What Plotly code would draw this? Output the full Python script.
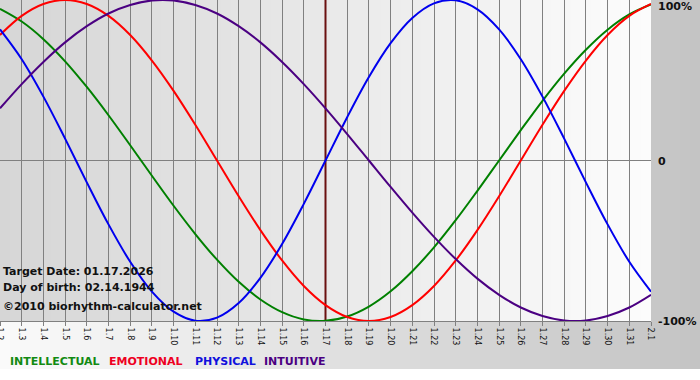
import plotly.graph_objects as go

# ---- data ----
day_labels = ["1.2", "1.3", "1.4", "1.5", "1.6", "1.7", "1.8", "1.9", "1.10", "1.11",
              "1.12", "1.13", "1.14", "1.15", "1.16", "1.17", "1.18", "1.19", "1.20", "1.21",
              "1.22", "1.23", "1.24", "1.25", "1.26", "1.27", "1.28", "1.29", "1.30", "1.31", "2.1"]

intellectual = [0.945, 0.866, 0.756, 0.618, 0.458, 0.282, 0.095, -0.095, -0.282, -0.458,
                -0.618, -0.756, -0.866, -0.945, -0.990, -0.999, -0.972, -0.910, -0.815, -0.690,
                -0.541, -0.372, -0.189, 0.0, 0.189, 0.372, 0.541, 0.690, 0.815, 0.910, 0.972]

emotional = [0.782, 0.901, 0.975, 1.0, 0.975, 0.901, 0.782, 0.623, 0.434, 0.223,
             0.0, -0.223, -0.434, -0.623, -0.782, -0.901, -0.975, -1.0, -0.975, -0.901,
             -0.782, -0.623, -0.434, -0.223, 0.0, 0.223, 0.434, 0.623, 0.782, 0.901, 0.975]

physical = [0.817, 0.631, 0.398, 0.136, -0.136, -0.398, -0.631, -0.817, -0.942, -0.998,
            -0.979, -0.888, -0.731, -0.520, -0.270, 0.0, 0.270, 0.520, 0.731, 0.888,
            0.979, 0.998, 0.942, 0.817, 0.631, 0.398, 0.136, -0.136, -0.398, -0.631, -0.817]

intuitive = [0.325, 0.476, 0.614, 0.736, 0.837, 0.916, 0.969, 0.997, 0.997, 0.969,
             0.916, 0.837, 0.736, 0.614, 0.476, 0.325, 0.165, 0.0, -0.165, -0.325,
             -0.476, -0.614, -0.736, -0.837, -0.916, -0.969, -0.997, -0.997, -0.969, -0.916, -0.837]

target_day = "1.17"
right_values = [1, 0, -1]
right_labels = ["100%", "0", "-100%"]

series_names = ["INTELLECTUAL", "EMOTIONAL", "PHYSICAL", "INTUITIVE"]
series_colors = ["#008000", "#ff0000", "#0000ee", "#4b0082"]
legend_colors = ["#128a12", "#ee0022", "#1010dd", "#4b0082"]
info_lines = ["Target Date: 01.17.2026", "Day of birth: 02.14.1944", "\u00a92010 biorhythm-calculator.net"]

# ---- layout geometry ----
W, H = 700, 380
PL, PR, PT, PB = 0, 49, 0, 59
plot_w = W - PL - PR
plot_h = H - PT - PB


def lerp_color(c1, c2, t):
    v = [round(c1[i] + (c2[i] - c1[i]) * t) for i in range(3)]
    return "rgb(%d,%d,%d)" % tuple(v)


shapes = []
# outer background gradient (white-ish -> gray)
n = 70
bottom_px = 369
y_bottom = -(bottom_px - plot_h) / plot_h
for i in range(n):
    x0 = (W * i / n) / plot_w
    x1 = (W * (i + 1) / n + 1) / plot_w
    shapes.append(dict(type="rect", xref="paper", yref="paper", x0=x0, x1=x1,
                       y0=y_bottom, y1=1.0, line=dict(width=0),
                       fillcolor=lerp_color((250, 250, 250), (196, 196, 196), i / (n - 1)),
                       layer="below"))
# plot-area gradient (darker left -> lighter right)
m = 65
for i in range(m):
    x0 = i / m
    x1 = min(1.0, (i + 1) / m + 0.002)
    shapes.append(dict(type="rect", xref="paper", yref="paper", x0=x0, x1=x1,
                       y0=0, y1=1, line=dict(width=0),
                       fillcolor=lerp_color((214, 214, 214), (252, 252, 252), i / (m - 1)),
                       layer="below"))

fig = go.Figure()
# target day marker, drawn first so the curves sit on top of it
fig.add_trace(go.Scatter(x=[target_day, target_day], y=[min(right_values), max(right_values)],
                         mode="lines", line=dict(color="#6a1010", width=2),
                         hoverinfo="skip", showlegend=False))
for name, vals, col in zip(series_names, [intellectual, emotional, physical, intuitive], series_colors):
    fig.add_trace(go.Scatter(x=day_labels, y=vals, mode="lines", name=name,
                             line=dict(color=col, width=2, shape="spline", smoothing=1.0),
                             hoverinfo="skip", showlegend=False))

annotations = []
# right side value labels
for v, lab in zip(right_values, right_labels):
    yshift = -6 if v == 1 else (-1 if v == 0 else 0)
    annotations.append(dict(xref="paper", yref="y", x=1.0, y=v, text="<b>%s</b>" % lab,
                            showarrow=False, xanchor="left", yanchor="middle", xshift=5,
                            yshift=yshift,
                            font=dict(family="DejaVu Sans", size=11, color="#111111")))
# info text
info_y = [271, 287, 306]
for txt, py in zip(info_lines, info_y):
    annotations.append(dict(xref="paper", yref="paper", x=0, y=1 - py / plot_h,
                            text="<b>%s</b>" % txt, showarrow=False, xanchor="left",
                            yanchor="middle", xshift=1,
                            font=dict(family="DejaVu Sans", size=11, color="#111111")))
# legend text
legend_x = [8, 107, 193, 262]
for name, col, px in zip(series_names, legend_colors, legend_x):
    annotations.append(dict(xref="paper", yref="paper", x=px / plot_w, y=1 - 362 / plot_h,
                            text="<b>%s</b>" % name, showarrow=False, xanchor="left",
                            yanchor="middle",
                            font=dict(family="DejaVu Sans", size=11, color=col)))

fig.update_layout(
    width=W, height=H,
    margin=dict(l=PL, r=PR, t=PT, b=PB, pad=0, autoexpand=False),
    paper_bgcolor="#ffffff",
    plot_bgcolor="rgba(0,0,0,0)",
    shapes=shapes,
    annotations=annotations,
    showlegend=False,
    xaxis=dict(type="category", categoryorder="array", categoryarray=day_labels,
               range=[0, len(day_labels) - 1], automargin=False,
               showgrid=True, gridcolor="#808080", gridwidth=1,
               showline=True, linecolor="#808080", linewidth=1,
               ticks="outside", ticklen=4, tickcolor="#808080", tickwidth=1,
               tickangle=90, tickfont=dict(family="DejaVu Sans", size=8, color="#111111"),
               zeroline=False, fixedrange=True),
    yaxis=dict(range=[-1, 1], showgrid=False, showticklabels=False, automargin=False,
               zeroline=True, zerolinecolor="#808080", zerolinewidth=1,
               showline=False, ticks="", fixedrange=True),
)

fig.write_html("out.html", config={"displayModeBar": False},
               post_script="document.body.style.margin='0';document.body.style.overflow='hidden';")
